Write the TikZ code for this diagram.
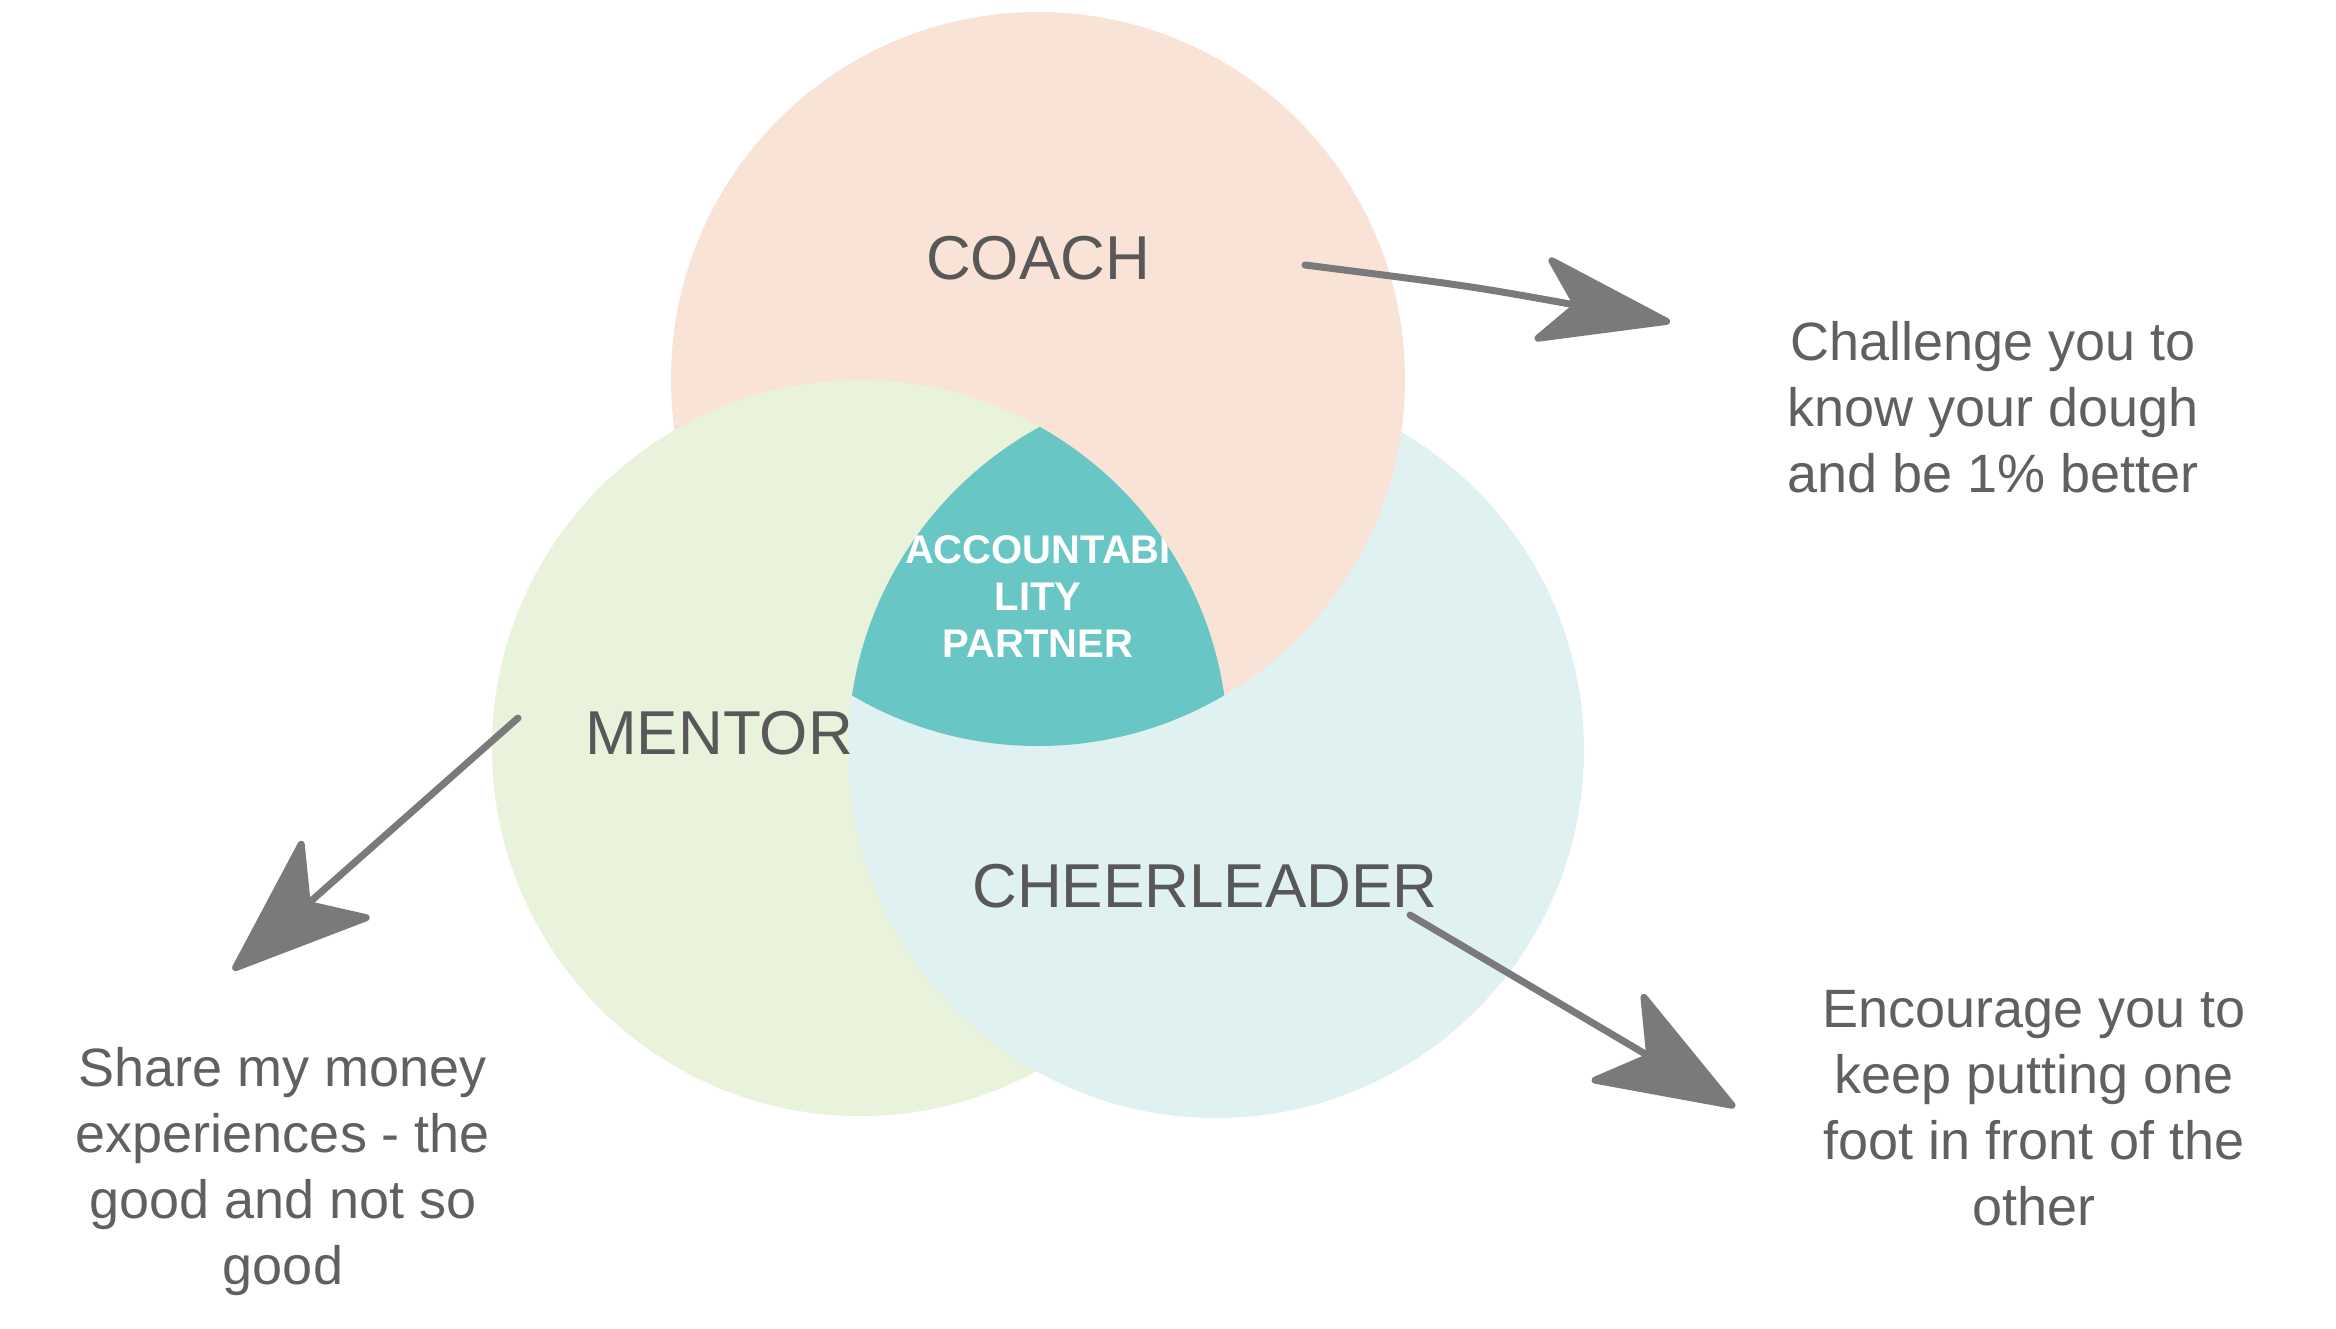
\documentclass[tikz,border=0pt]{standalone}
\usepackage{fontspec}
\setmainfont{Liberation Sans}
\usetikzlibrary{arrows.meta}
\definecolor{peach}{RGB}{249,227,214}
\definecolor{mint}{RGB}{233,242,218}
\definecolor{aqua}{RGB}{223,242,241}
\definecolor{tealc}{RGB}{104,198,196}
\definecolor{labelc}{RGB}{88,88,88}
\definecolor{bodyc}{RGB}{96,96,96}
\definecolor{arrowc}{RGB}{122,122,122}
\begin{document}
\begin{tikzpicture}[x=1pt,y=-1pt,
  lbl/.style={text=labelc,font=\fontsize{62}{70}\selectfont,inner sep=0pt},
  body/.style={text=bodyc,font=\fontsize{54}{66}\selectfont,align=center,inner sep=0pt},
  arr/.style={draw=arrowc,line width=7pt,line cap=round}]
\useasboundingbox (0,0) rectangle (2336,1328);
\coordinate (cC) at (1038,379);
\coordinate (cM) at (860,748);
\coordinate (cH) at (1216,750);
% circles
\fill[peach] (cC) circle[radius=367];
\fill[mint] (cM) circle[radius=368];
\fill[aqua] (cH) circle[radius=368];
\begin{scope}
  \clip (cH) circle[radius=368];
  \fill[peach] (cC) circle[radius=367];
\end{scope}
\begin{scope}
  \clip (cC) circle[radius=367];
  \clip (cM) circle[radius=368];
  \fill[tealc] (cH) circle[radius=368];
  \node[text=white,font=\bfseries\fontsize{40}{47}\selectfont,align=center,inner sep=0pt] (acc) at (1038,597) {ACCOUNTABI\\LITY\\PARTNER};
\end{scope}
% labels
\node[lbl] (coach) at (1038,258) {COACH};
\node[lbl] (mentor) at (719,733) {MENTOR};
\node[lbl] (cheer) at (1205,886) {CHEERLEADER};
% descriptions
\node[body] (chal) at (1993,407) {Challenge you to\\know your dough\\and be 1\% better};
\node[body] (enc) at (2034,1108) {Encourage you to\\keep putting one\\foot in front of the\\other};
\node[body] (share) at (283,1172) {Share my money\\experiences - the\\good and not so\\good};
% arrows
\coordinate (aCs) at (1305,265);
\coordinate (aCt) at (1670,322);
\coordinate (aMs) at (518,718);
\coordinate (aMt) at (233,970);
\coordinate (aHs) at (1410,915);
\coordinate (aHt) at (1735,1107);
\draw[arr,-{Stealth[length=145pt,width=92pt,inset=38pt,round]}] (aCs) .. controls (1470,286) .. (aCt);
\draw[arr,-{Stealth[length=150pt,width=112pt,inset=40pt,round]}] (aMs) -- (aMt);
\draw[arr,-{Stealth[length=150pt,width=110pt,inset=40pt,round]}] (aHs) -- (aHt);
\end{tikzpicture}
\end{document}
